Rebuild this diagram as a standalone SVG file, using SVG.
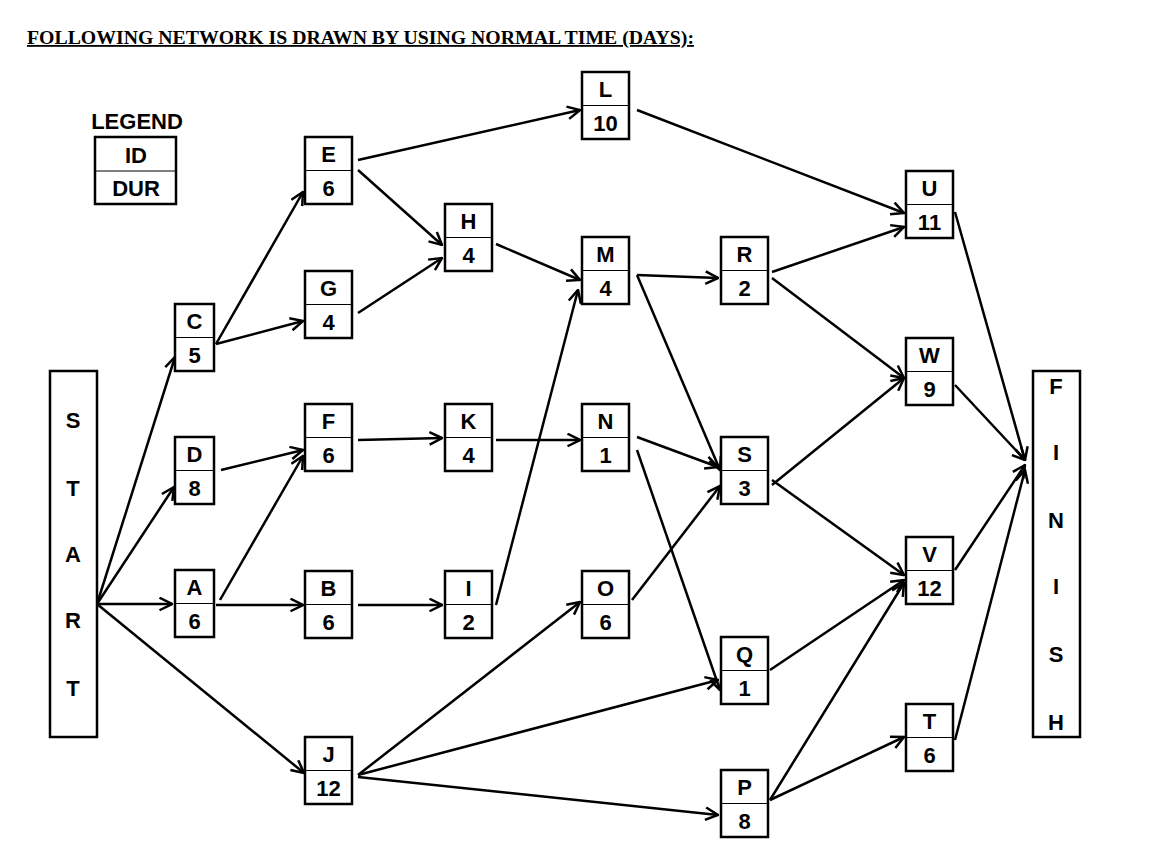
<svg xmlns="http://www.w3.org/2000/svg" width="1162" height="864" viewBox="0 0 1162 864">
<style>
.b{fill:#fff;stroke:#000;stroke-width:2.5}
.d{stroke:#000;stroke-width:1.2}
.t{font-family:"Liberation Sans",Arial,sans-serif;font-weight:bold;font-size:22px;text-anchor:middle}
.c line{stroke:#000;stroke-width:2.5;marker-end:url(#a)}
</style>
<defs>
<marker id="a" viewBox="0 0 12 12" refX="11" refY="6" markerWidth="6" markerHeight="6" orient="auto" markerUnits="strokeWidth">
<path d="M1,1 L11,6 L1,11" fill="none" stroke="#000" stroke-width="2"/>
</marker>
<g id="box"><rect class="b" x="0" y="0" width="47" height="67"/><line class="d" x1="0" y1="33.5" x2="47" y2="33.5"/></g>
<g id="sbox"><rect class="b" x="0" y="0" width="39" height="67"/><line class="d" x1="0" y1="33.5" x2="39" y2="33.5"/></g>
</defs>
<rect width="1162" height="864" fill="#fff"/>
<text x="27" y="44" font-family="'Liberation Serif','Times New Roman',serif" font-weight="bold" font-size="18" text-decoration="underline" textLength="667" lengthAdjust="spacingAndGlyphs">FOLLOWING NETWORK IS DRAWN BY USING NORMAL TIME (DAYS):</text>
<g id="legend"><text class="t" x="137" y="129">LEGEND</text><rect class="b" x="95" y="137" width="81" height="67"/><line class="d" x1="95" y1="171" x2="176" y2="171"/><text class="t" x="136" y="163">ID</text><text class="t" x="136" y="196">DUR</text></g>
<g class="c">
<line x1="97" y1="604" x2="175" y2="357"/>
<line x1="97" y1="604" x2="174" y2="487"/>
<line x1="97" y1="604" x2="172" y2="604"/>
<line x1="97" y1="604" x2="304" y2="773"/>
<line x1="216" y1="344" x2="303" y2="192"/>
<line x1="216" y1="344" x2="303" y2="321"/>
<line x1="358" y1="160" x2="580" y2="110"/>
<line x1="358" y1="170" x2="442" y2="245"/>
<line x1="358" y1="313" x2="442" y2="258"/>
<line x1="496" y1="244" x2="580" y2="280"/>
<line x1="221" y1="470" x2="303" y2="450"/>
<line x1="220" y1="600" x2="303" y2="456"/>
<line x1="216" y1="605" x2="303" y2="605"/>
<line x1="358" y1="605" x2="442" y2="605"/>
<line x1="358" y1="440" x2="442" y2="438"/>
<line x1="496" y1="440" x2="580" y2="440"/>
<line x1="496" y1="605" x2="578" y2="290"/>
<line x1="637" y1="110" x2="904" y2="213"/>
<line x1="637" y1="275" x2="718" y2="278"/>
<line x1="637" y1="275" x2="720" y2="470"/>
<line x1="772" y1="272" x2="904" y2="227"/>
<line x1="772" y1="278" x2="904" y2="378"/>
<line x1="637" y1="437" x2="718" y2="467"/>
<line x1="637" y1="450" x2="720" y2="690"/>
<line x1="632" y1="600" x2="720" y2="486"/>
<line x1="358" y1="775" x2="580" y2="602"/>
<line x1="358" y1="775" x2="718" y2="680"/>
<line x1="358" y1="777" x2="718" y2="815"/>
<line x1="772" y1="485" x2="904" y2="378"/>
<line x1="772" y1="480" x2="904" y2="575"/>
<line x1="770" y1="670" x2="904" y2="580"/>
<line x1="770" y1="800" x2="904" y2="583"/>
<line x1="770" y1="800" x2="904" y2="737"/>
<line x1="955" y1="212" x2="1025" y2="460"/>
<line x1="955" y1="385" x2="1025" y2="460"/>
<line x1="955" y1="570" x2="1025" y2="465"/>
<line x1="955" y1="740" x2="1025" y2="470"/>
</g>
<g id="START"><rect class="b" x="50" y="371" width="47" height="366"/>
<text class="t" x="73" y="428">S</text><text class="t" x="73" y="496">T</text><text class="t" x="73" y="562">A</text><text class="t" x="73" y="628">R</text><text class="t" x="73" y="696">T</text></g>
<g id="FINISH"><rect class="b" x="1033" y="371" width="47" height="366"/>
<text class="t" x="1056" y="394">F</text><text class="t" x="1056" y="460">I</text><text class="t" x="1056" y="528">N</text><text class="t" x="1056" y="594">I</text><text class="t" x="1056" y="662">S</text><text class="t" x="1056" y="730">H</text></g>
<g id="C"><use href="#sbox" x="175" y="304"/><text class="t" x="194.5" y="329">C</text><text class="t" x="194.5" y="363">5</text></g>
<g id="D"><use href="#sbox" x="175" y="437"/><text class="t" x="194.5" y="462">D</text><text class="t" x="194.5" y="496">8</text></g>
<g id="A"><use href="#sbox" x="175" y="570"/><text class="t" x="194.5" y="595">A</text><text class="t" x="194.5" y="629">6</text></g>
<g id="E"><use href="#box" x="305" y="137"/><text class="t" x="328.5" y="162">E</text><text class="t" x="328.5" y="196">6</text></g>
<g id="G"><use href="#box" x="305" y="271"/><text class="t" x="328.5" y="296">G</text><text class="t" x="328.5" y="330">4</text></g>
<g id="F"><use href="#box" x="305" y="404"/><text class="t" x="328.5" y="429">F</text><text class="t" x="328.5" y="463">6</text></g>
<g id="B"><use href="#box" x="305" y="571"/><text class="t" x="328.5" y="596">B</text><text class="t" x="328.5" y="630">6</text></g>
<g id="J"><use href="#box" x="305" y="737"/><text class="t" x="328.5" y="762">J</text><text class="t" x="328.5" y="796">12</text></g>
<g id="H"><use href="#box" x="445" y="204"/><text class="t" x="468.5" y="229">H</text><text class="t" x="468.5" y="263">4</text></g>
<g id="K"><use href="#box" x="445" y="404"/><text class="t" x="468.5" y="429">K</text><text class="t" x="468.5" y="463">4</text></g>
<g id="I"><use href="#box" x="445" y="571"/><text class="t" x="468.5" y="596">I</text><text class="t" x="468.5" y="630">2</text></g>
<g id="L"><use href="#box" x="582" y="72"/><text class="t" x="605.5" y="97">L</text><text class="t" x="605.5" y="131">10</text></g>
<g id="M"><use href="#box" x="582" y="237"/><text class="t" x="605.5" y="262">M</text><text class="t" x="605.5" y="296">4</text></g>
<g id="N"><use href="#box" x="582" y="404"/><text class="t" x="605.5" y="429">N</text><text class="t" x="605.5" y="463">1</text></g>
<g id="O"><use href="#box" x="582" y="571"/><text class="t" x="605.5" y="596">O</text><text class="t" x="605.5" y="630">6</text></g>
<g id="R"><use href="#box" x="721" y="237"/><text class="t" x="744.5" y="262">R</text><text class="t" x="744.5" y="296">2</text></g>
<g id="S"><use href="#box" x="721" y="437"/><text class="t" x="744.5" y="462">S</text><text class="t" x="744.5" y="496">3</text></g>
<g id="Q"><use href="#box" x="721" y="637"/><text class="t" x="744.5" y="662">Q</text><text class="t" x="744.5" y="696">1</text></g>
<g id="P"><use href="#box" x="721" y="770"/><text class="t" x="744.5" y="795">P</text><text class="t" x="744.5" y="829">8</text></g>
<g id="U"><use href="#box" x="906" y="171"/><text class="t" x="929.5" y="196">U</text><text class="t" x="929.5" y="230">11</text></g>
<g id="W"><use href="#box" x="906" y="338"/><text class="t" x="929.5" y="363">W</text><text class="t" x="929.5" y="397">9</text></g>
<g id="V"><use href="#box" x="906" y="537"/><text class="t" x="929.5" y="562">V</text><text class="t" x="929.5" y="596">12</text></g>
<g id="T"><use href="#box" x="906" y="704"/><text class="t" x="929.5" y="729">T</text><text class="t" x="929.5" y="763">6</text></g>
</svg>
